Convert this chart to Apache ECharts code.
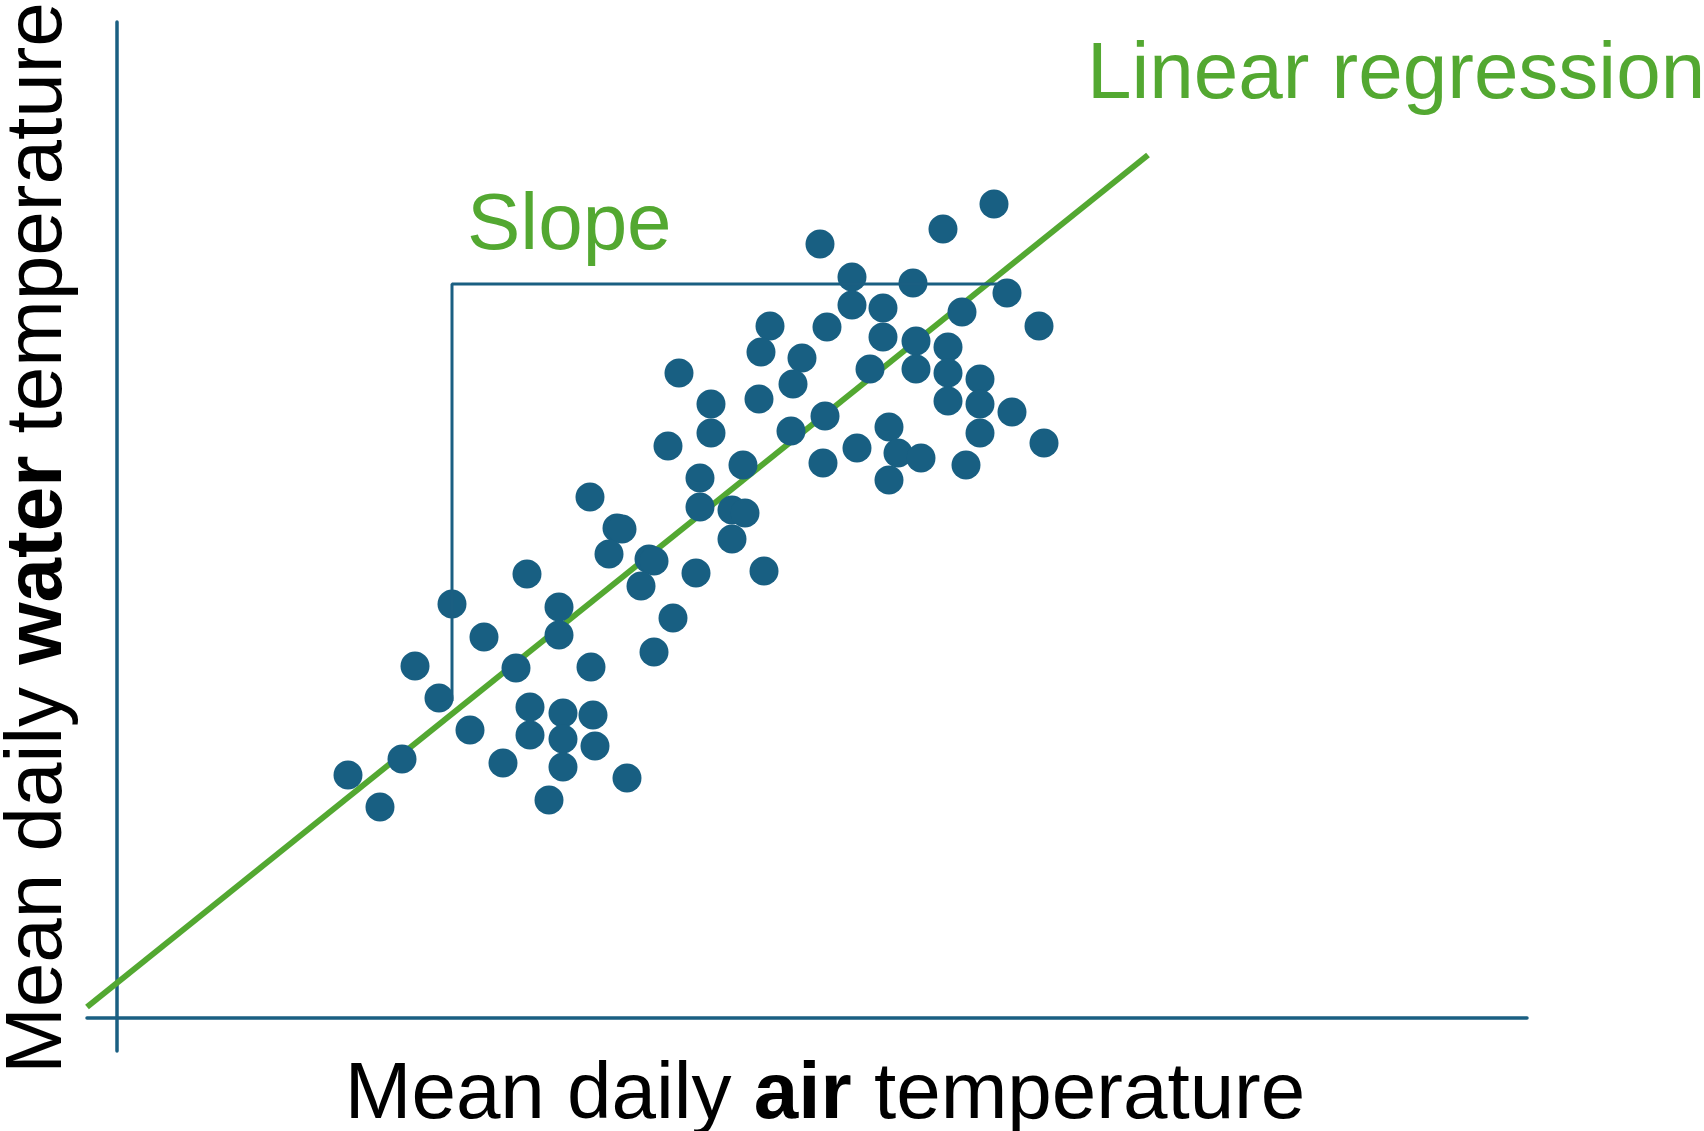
<!DOCTYPE html>
<html>
<head>
<meta charset="utf-8">
<script src="https://cdn.jsdelivr.net/npm/echarts@6/dist/echarts.min.js"></script>
<style>
html,body{margin:0;padding:0;background:#fff;}
#chart{width:1704px;height:1131px;}
</style>
</head>
<body>
<div id="chart"></div>
<script>
// Schematic units (no tick labels in the original)
const airTemp = [
  87.7, 82.6, 70.3, 73.5, 79.6, 89.0, 73.5, 76.6, 84.5, 92.2,
  65.3, 71.0, 76.6, 79.9, 83.1, 64.4, 68.5, 75.3, 79.9, 83.1,
  56.2, 86.3, 67.6, 59.4, 64.2, 83.1, 86.3, 89.5, 70.8, 67.4,
  77.2, 59.4, 86.3, 55.1, 74.0, 92.7, 78.1, 80.4, 70.6, 62.6,
  84.9, 77.2, 58.3, 58.3, 61.5, 62.8, 61.5, 47.3, 50.0, 50.5,
  49.2, 53.2, 53.7, 52.4, 57.9, 64.7, 55.6, 53.7, 41.0, 44.2,
  44.2, 36.7, 33.5, 29.8, 39.9, 47.4, 32.2, 41.3, 44.6, 47.6,
  35.3, 41.3, 44.6, 47.8, 28.5, 23.1, 38.6, 44.6, 51.0, 26.3,
  43.2
];
const waterTemp = [
  81.4, 78.9, 77.4, 74.1, 73.5, 72.5, 71.3, 71.0, 70.6, 69.2,
  69.2, 69.1, 68.1, 67.7, 67.1, 66.6, 66.0, 64.9, 64.9, 64.5,
  64.5, 63.9, 63.4, 61.4, 61.9, 61.7, 61.4, 60.6, 60.2, 58.7,
  59.1, 58.5, 58.5, 57.2, 57.0, 57.5, 56.5, 56.0, 55.5, 55.3,
  55.3, 53.8, 54.0, 51.1, 50.8, 50.5, 47.9, 52.1, 49.0, 48.9,
  46.4, 45.9, 45.7, 43.2, 44.5, 44.7, 40.0, 36.6, 44.4, 41.1,
  38.3, 38.1, 41.4, 35.2, 35.0, 35.1, 32.0, 31.1, 30.5, 30.3,
  28.8, 28.3, 27.9, 27.2, 25.9, 24.3, 25.5, 25.1, 24.0, 21.1,
  21.8
];
const regressionX = [-3.0, 103.1];
const regressionY = [1.1, 86.3];
const slopeX = [33.5, 33.5, 88.0];
const slopeY = [31.7, 73.4, 73.4];

const BLUE = '#185f82';
const AXIS = '#1a5f82';
const GREEN = '#53a831';
const FONT = '"Liberation Sans", Arial, sans-serif';

const points = airTemp.map((x, i) => [x, waterTemp[i]]);
const regLine = regressionX.map((x, i) => [x, regressionY[i]]);
const slopeLine = slopeX.map((x, i) => [x, slopeY[i]]);

const chart = echarts.init(document.getElementById('chart'), null, {renderer: 'canvas'});
chart.setOption({
  animation: false,
  backgroundColor: '#ffffff',
  grid: {left: 87, right: 177, top: 22, bottom: 80},
  xAxis: {
    type: 'value', min: -3, max: 141,
    axisLine: {show: true, onZero: true, lineStyle: {color: AXIS, width: 3.5}},
    axisTick: {show: false}, axisLabel: {show: false}, splitLine: {show: false}
  },
  yAxis: {
    type: 'value', min: -3.3, max: 99.6,
    axisLine: {show: true, onZero: true, lineStyle: {color: AXIS, width: 3.5}},
    axisTick: {show: false}, axisLabel: {show: false}, splitLine: {show: false}
  },
  series: [
    {
      type: 'line', data: regLine, z: 1, symbol: 'none',
      lineStyle: {color: GREEN, width: 6}
    },
    {
      type: 'scatter', data: points, z: 2, symbolSize: 29,
      itemStyle: {color: BLUE, opacity: 1}
    },
    {
      type: 'line', data: slopeLine, z: 3, symbol: 'none',
      lineStyle: {color: AXIS, width: 3}
    }
  ],
  graphic: [
    {
      type: 'text', left: 467, top: 187, z: 10,
      style: {text: 'Slope', fill: GREEN, font: '80px ' + FONT}
    },
    {
      type: 'text', left: 1087, top: 36, z: 10,
      style: {text: 'Linear regression', fill: GREEN, font: '80px ' + FONT}
    },
    {
      type: 'text', x: 825, y: 1096, z: 10,
      style: {
        text: 'Mean daily {b|air} temperature',
        fill: '#000', font: '80px ' + FONT,
        align: 'center', verticalAlign: 'middle',
        rich: {b: {fontWeight: 'bold', fontSize: 80, fontFamily: FONT, fill: '#000'}}
      }
    },
    {
      type: 'text', x: 39, y: 538, rotation: Math.PI / 2, z: 10,
      style: {
        text: 'Mean daily {b|water} temperature',
        fill: '#000', font: '80px ' + FONT,
        align: 'center', verticalAlign: 'middle',
        rich: {b: {fontWeight: 'bold', fontSize: 80, fontFamily: FONT, fill: '#000'}}
      }
    }
  ]
});
</script>
</body>
</html>
